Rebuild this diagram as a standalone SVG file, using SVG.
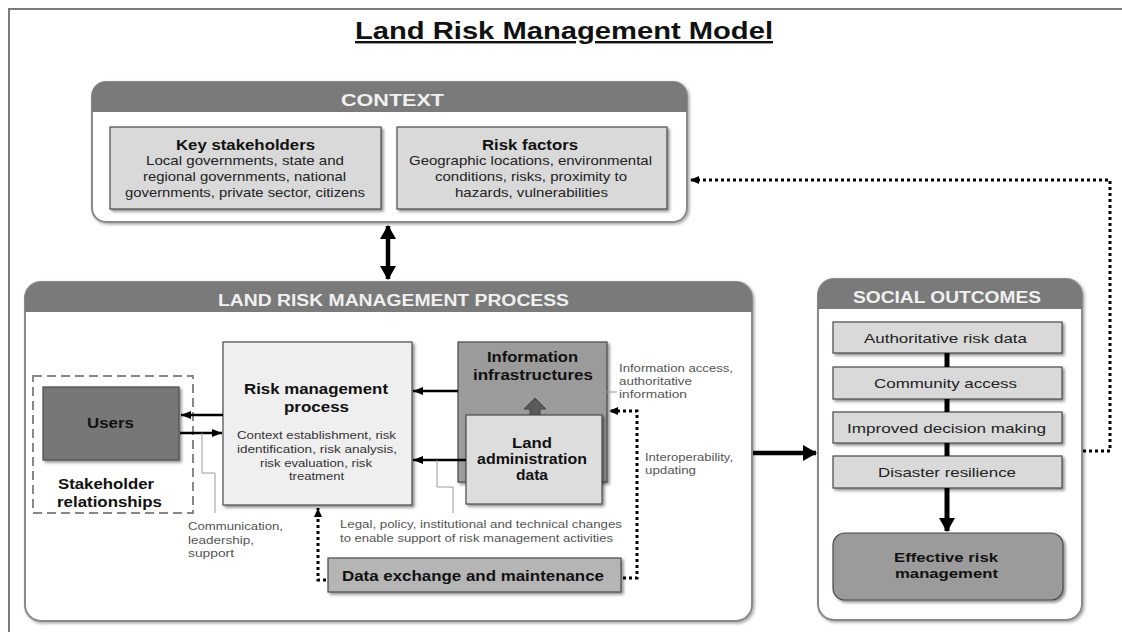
<svg xmlns="http://www.w3.org/2000/svg" width="1122" height="632" viewBox="0 0 1122 632">
<defs>
<filter id="sh" x="-10%" y="-10%" width="130%" height="140%">
<feDropShadow dx="2" dy="2" stdDeviation="1.5" flood-color="#000" flood-opacity="0.45"/>
</filter>
<filter id="shc" x="-5%" y="-5%" width="115%" height="115%">
<feDropShadow dx="1.5" dy="1.5" stdDeviation="1.5" flood-color="#000" flood-opacity="0.35"/>
</filter>
<marker id="ah" viewBox="0 0 10 8" markerWidth="10" markerHeight="8" refX="10" refY="4" orient="auto" markerUnits="userSpaceOnUse">
<path d="M0,0 L10,4 L0,8 z" fill="#000"/>
</marker>
<marker id="ahb" viewBox="0 0 14 16" markerWidth="14" markerHeight="16" refX="13" refY="8" orient="auto-start-reverse" markerUnits="userSpaceOnUse">
<path d="M0,0 L14,8 L0,16 z" fill="#000"/>
</marker>
<marker id="ahd" viewBox="0 0 9 8" markerWidth="9" markerHeight="8" refX="9" refY="4" orient="auto" markerUnits="userSpaceOnUse">
<path d="M0,0 L9,4 L0,8 z" fill="#000"/>
</marker>
</defs>
<style>
text{font-family:"Liberation Sans",Arial,sans-serif;}
.hd{font-size:16px;font-weight:bold;fill:#f0f0f0;}
.b15{font-size:15px;font-weight:bold;fill:#111;}
.b13{font-size:13px;font-weight:bold;fill:#111;}
.t13{font-size:13px;fill:#222;}
.t11{font-size:11px;fill:#333;}
.sm{font-size:11px;fill:#555;}
.cont{fill:#fff;stroke:#8a8a8a;stroke-width:2;}
.band{fill:#7a7a7a;}
.box{stroke:#4a4a4a;stroke-width:1.2;filter:url(#sh);}
.thin{fill:none;stroke:#9a9a9a;stroke-width:1;}
.dot{fill:none;stroke:#000;stroke-width:3;stroke-dasharray:3 3;}
.arr{fill:none;stroke:#000;stroke-width:2.5;}
.thick{fill:none;stroke:#000;stroke-width:4.5;}
</style>
<rect width="1122" height="632" fill="#fff"/>
<path d="M9,632 V9 H1122" fill="none" stroke="#7a7a7a" stroke-width="2"/>

<text x="355" y="39" font-size="24" font-weight="bold" fill="#111" text-decoration="underline" textLength="418" lengthAdjust="spacingAndGlyphs">Land Risk Management Model</text>

<g id="context">
<rect class="cont" x="92" y="82" width="595" height="140" rx="14" filter="url(#shc)"/>
<path class="band" d="M92,112 V96 A14,14 0 0 1 106,82 H673 A14,14 0 0 1 687,96 V112 Z"/>
<text class="hd" x="341" y="106" textLength="103" lengthAdjust="spacingAndGlyphs">CONTEXT</text>
</g>
<g id="key-stakeholders">
<rect class="box" x="110" y="127" width="271" height="82" fill="#d9d9d9"/>
<text class="b15" x="176" y="150" textLength="139" lengthAdjust="spacingAndGlyphs">Key stakeholders</text>
<text class="t13" x="146" y="165" textLength="198" lengthAdjust="spacingAndGlyphs">Local governments, state and</text>
<text class="t13" x="143" y="181" textLength="203" lengthAdjust="spacingAndGlyphs">regional governments, national</text>
<text class="t13" x="125" y="197" textLength="240" lengthAdjust="spacingAndGlyphs">governments, private sector, citizens</text>
</g>
<g id="risk-factors">
<rect class="box" x="397" y="127" width="270" height="82" fill="#d9d9d9"/>
<text class="b15" x="482" y="150" textLength="96" lengthAdjust="spacingAndGlyphs">Risk factors</text>
<text class="t13" x="409" y="165" textLength="243" lengthAdjust="spacingAndGlyphs">Geographic locations, environmental</text>
<text class="t13" x="435" y="181" textLength="192" lengthAdjust="spacingAndGlyphs">conditions, risks, proximity to</text>
<text class="t13" x="455" y="197" textLength="153" lengthAdjust="spacingAndGlyphs">hazards, vulnerabilities</text>
</g>

<g id="process">
<rect class="cont" x="25" y="282" width="727" height="339" rx="16" filter="url(#shc)"/>
<path class="band" d="M25,312 V298 A16,16 0 0 1 41,282 H736 A16,16 0 0 1 752,298 V312 Z"/>
<text class="hd" x="218" y="306" textLength="351" lengthAdjust="spacingAndGlyphs">LAND RISK MANAGEMENT PROCESS</text>
</g>
<g id="stakeholder-relationships">
<rect x="33" y="376" width="160" height="137" fill="none" stroke="#888" stroke-width="2" stroke-dasharray="9 5"/>
<text class="b15" x="58" y="489" fill="#222" textLength="96" lengthAdjust="spacingAndGlyphs">Stakeholder</text>
<text class="b15" x="57" y="507" fill="#222" textLength="105" lengthAdjust="spacingAndGlyphs">relationships</text>
</g>
<g id="users">
<rect class="box" x="43" y="387" width="136" height="73" fill="#777"/>
<text class="b15" x="87" y="428" fill="#222" textLength="47" lengthAdjust="spacingAndGlyphs">Users</text>
</g>
<g id="risk-management-process">
<rect class="box" x="223" y="342" width="189" height="163" fill="#efefef"/>
<text class="b15" x="244" y="394" font-size="16" textLength="144" lengthAdjust="spacingAndGlyphs">Risk management</text>
<text class="b15" x="284" y="412" font-size="16" textLength="65" lengthAdjust="spacingAndGlyphs">process</text>
<text class="t11" x="237" y="439" textLength="159" lengthAdjust="spacingAndGlyphs">Context establishment, risk</text>
<text class="t11" x="237" y="453" textLength="160" lengthAdjust="spacingAndGlyphs">identification, risk analysis,</text>
<text class="t11" x="260" y="467" textLength="112" lengthAdjust="spacingAndGlyphs">risk evaluation, risk</text>
<text class="t11" x="289" y="480" textLength="55" lengthAdjust="spacingAndGlyphs">treatment</text>
</g>
<g id="information-infrastructures">
<rect class="box" x="458" y="342" width="149" height="140" fill="#9b9b9b"/>
<text class="b15" x="487" y="362" fill="#222" textLength="91" lengthAdjust="spacingAndGlyphs">Information</text>
<text class="b15" x="473" y="380" fill="#222" textLength="120" lengthAdjust="spacingAndGlyphs">infrastructures</text>
<path d="M530,422 V409 H524 L535,398 L546,409 H540 V422 Z" fill="#5a5a5a" stroke="#444" stroke-width="1"/>
</g>
<g id="land-administration-data">
<rect class="box" x="466" y="415" width="136" height="89" fill="#dddddd"/>
<text class="b15" x="512" y="448" fill="#222" textLength="40" lengthAdjust="spacingAndGlyphs">Land</text>
<text class="b15" x="477" y="464" fill="#222" textLength="110" lengthAdjust="spacingAndGlyphs">administration</text>
<text class="b15" x="516" y="480" fill="#222" textLength="32" lengthAdjust="spacingAndGlyphs">data</text>
</g>
<g id="data-exchange">
<rect class="box" x="328" y="558" width="293" height="34" fill="#b5b5b5"/>
<text class="b15" x="342" y="581" font-size="14" textLength="262" lengthAdjust="spacingAndGlyphs">Data exchange and maintenance</text>
</g>
<g id="labels">
<text class="sm" x="188" y="530" textLength="95" lengthAdjust="spacingAndGlyphs">Communication,</text>
<text class="sm" x="188" y="544" textLength="66" lengthAdjust="spacingAndGlyphs">leadership,</text>
<text class="sm" x="188" y="557" textLength="46" lengthAdjust="spacingAndGlyphs">support</text>
<text class="sm" x="340" y="528" textLength="282" lengthAdjust="spacingAndGlyphs">Legal, policy, institutional and technical changes</text>
<text class="sm" x="340" y="542" textLength="273" lengthAdjust="spacingAndGlyphs">to enable support of risk management activities</text>
<text class="sm" x="619" y="372" textLength="114" lengthAdjust="spacingAndGlyphs">Information access,</text>
<text class="sm" x="619" y="385" textLength="73" lengthAdjust="spacingAndGlyphs">authoritative</text>
<text class="sm" x="619" y="398" textLength="68" lengthAdjust="spacingAndGlyphs">information</text>
<text class="sm" x="645" y="461" textLength="88" lengthAdjust="spacingAndGlyphs">Interoperability,</text>
<text class="sm" x="645" y="474" textLength="51" lengthAdjust="spacingAndGlyphs">updating</text>
</g>

<g id="social-outcomes">
<rect class="cont" x="818" y="279" width="264" height="341" rx="16" filter="url(#shc)"/>
<path class="band" d="M818,309 V295 A16,16 0 0 1 834,279 H1066 A16,16 0 0 1 1082,295 V309 Z"/>
<text class="hd" x="853" y="303" textLength="188" lengthAdjust="spacingAndGlyphs">SOCIAL OUTCOMES</text>
</g>
<g id="authoritative-risk-data">
<rect class="box" x="833" y="322" width="229" height="31" fill="#d9d9d9"/>
<text class="t13" x="864" y="343" textLength="163" lengthAdjust="spacingAndGlyphs">Authoritative risk data</text>
</g>
<g id="community-access">
<rect class="box" x="833" y="367" width="229" height="32" fill="#d9d9d9"/>
<text class="t13" x="874" y="388" textLength="143" lengthAdjust="spacingAndGlyphs">Community access</text>
</g>
<g id="improved-decision-making">
<rect class="box" x="833" y="412" width="229" height="31" fill="#d9d9d9"/>
<text class="t13" x="847" y="433" textLength="199" lengthAdjust="spacingAndGlyphs">Improved decision making</text>
</g>
<g id="disaster-resilience">
<rect class="box" x="833" y="456" width="229" height="32" fill="#d9d9d9"/>
<text class="t13" x="878" y="477" textLength="138" lengthAdjust="spacingAndGlyphs">Disaster resilience</text>
</g>
<g id="effective-risk-management">
<rect class="box" x="833" y="533" width="230" height="67" rx="12" fill="#9b9b9b"/>
<text class="b13" x="894" y="562" textLength="104" lengthAdjust="spacingAndGlyphs">Effective risk</text>
<text class="b13" x="895" y="578" textLength="103" lengthAdjust="spacingAndGlyphs">management</text>
</g>

<g id="connectors">
<line class="thick" x1="388" y1="226" x2="388" y2="279" marker-start="url(#ahb)" marker-end="url(#ahb)"/>
<line class="arr" x1="223" y1="415" x2="181" y2="415" marker-end="url(#ah)"/>
<line class="arr" x1="180" y1="433" x2="222" y2="433" marker-end="url(#ah)"/>
<line class="arr" x1="458" y1="391" x2="413" y2="391" marker-end="url(#ah)"/>
<line class="arr" x1="466" y1="460" x2="413" y2="460" marker-end="url(#ah)"/>
<line class="thick" x1="753" y1="453" x2="816" y2="453" marker-end="url(#ahb)"/>
<line x1="947" y1="353" x2="947" y2="367" stroke="#000" stroke-width="5"/>
<line x1="947" y1="399" x2="947" y2="412" stroke="#000" stroke-width="5"/>
<line x1="947" y1="443" x2="947" y2="456" stroke="#000" stroke-width="5"/>
<line x1="947" y1="488" x2="947" y2="531" stroke="#000" stroke-width="5" marker-end="url(#ahb)"/>
<path class="dot" d="M1083,451 H1110 V180 H690" marker-end="url(#ahd)"/>
<path class="dot" d="M326,580 H318 V508" marker-end="url(#ahd)"/>
<path class="dot" d="M623,578 H637 V411 H609" marker-end="url(#ahd)"/>
<path class="thin" d="M202,433 V473 H215 V513"/>
<path class="thin" d="M437,460 V487 H453 V513"/>
<path class="thin" d="M553,407 H583 V392 H617"/>
</g>
</svg>
